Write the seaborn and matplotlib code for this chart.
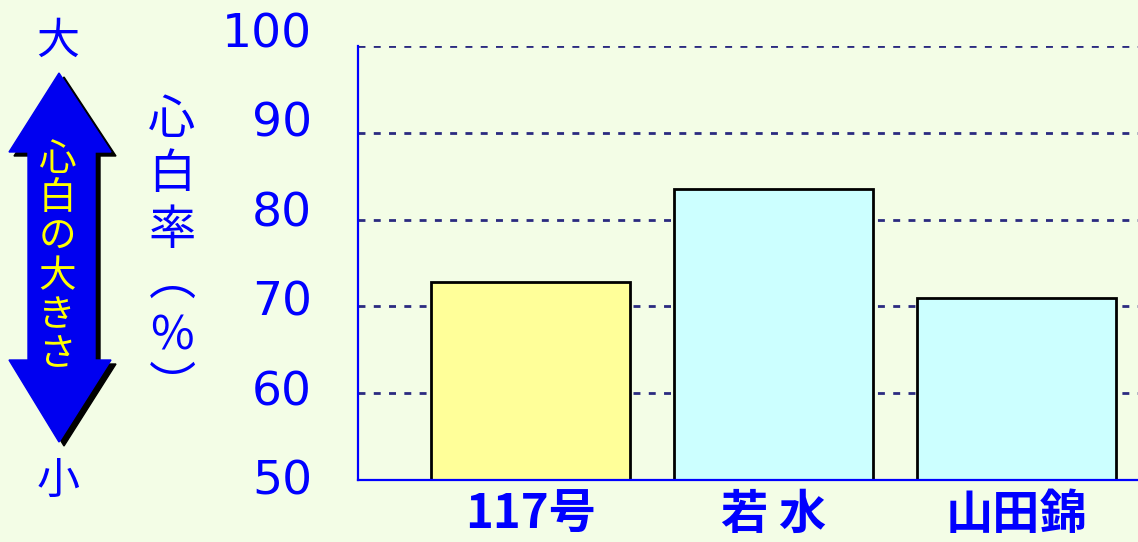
import matplotlib
matplotlib.use("Agg")
import matplotlib.pyplot as plt
import seaborn as sns
import pandas as pd
from matplotlib.patches import Polygon

# data
varieties = ["117号", "若 水", "山田錦"]
shinpaku = [72.8, 83.5, 71.0]
bar_colors = ["#FFFF99", "#CCFFFF", "#CCFFFF"]
yticks = [50, 60, 70, 80, 90, 100]

df = pd.DataFrame({"variety": varieties, "rate": shinpaku})

bg = "#F3FDE6"
blue = "#0000FF"

sns.set_theme(style="white")
plt.rcParams["font.family"] = ["Noto Sans CJK JP", "DejaVu Sans"]

fig = plt.figure(figsize=(11.38, 5.42), dpi=100, facecolor=bg)
ax = fig.add_axes([0.3146, 0.1144, 0.6854, 0.8007])
ax.set_facecolor(bg)

sns.barplot(data=df, x="variety", y="rate", hue="variety", palette=bar_colors,
            saturation=1, legend=False, width=0.82, edgecolor="black",
            linewidth=2, ax=ax)

ax.set_yticks(yticks)
ax.set_yticklabels([])
ax.set_ylim(50, 100)
ax.set_xlim(-0.71, 2.5)
ax.set_axisbelow(True)
ax.yaxis.grid(True, color="#2B2B80", linestyle=(0, (2.5, 3)), linewidth=2)
ax.xaxis.grid(False)

for s in ["top", "right"]:
    ax.spines[s].set_visible(False)
ax.spines["left"].set_color(blue)
ax.spines["bottom"].set_color(blue)
ax.spines["left"].set_linewidth(1.6)
ax.spines["bottom"].set_linewidth(1.6)

ax.tick_params(axis="y", length=0)
ax.tick_params(axis="x", length=0, pad=8, labelcolor=blue)
for lab in ax.get_xticklabels():
    lab.set_fontsize(34)
    lab.set_fontweight("bold")
ax.set_xlabel("")
ax.set_ylabel("")

# the original's number column is spaced a little wider than its gridlines
lab_ax = fig.add_axes([0.3146, 0.1144, 0.6854, 0.8487], frameon=False)
lab_ax.set_xticks([])
lab_ax.set_yticks(yticks)
lab_ax.set_yticklabels([str(t) for t in yticks], family="DejaVu Sans")
lab_ax.set_ylim(49.66, 101.12)
lab_ax.tick_params(axis="y", length=0, pad=33, labelsize=34, labelcolor=blue)
lab_ax.patch.set_visible(False)

# overlay in pixel coordinates for the side decorations
ov = fig.add_axes([0, 0, 1, 1], facecolor="none")
ov.set_xlim(0, 1138)
ov.set_ylim(542, 0)
ov.axis("off")

def arrow_pts(dx=0, dy=0):
    pts = [(59, 73), (111, 152), (95, 152), (95, 360), (111, 360),
           (59, 442), (9, 360), (28, 360), (28, 152), (9, 152)]
    return [(x + dx, y + dy) for x, y in pts]

ov.add_patch(Polygon(arrow_pts(5, 4), closed=True, color="black"))
ov.add_patch(Polygon(arrow_pts(), closed=True, color="#0000F0"))

ov.text(57, 257, "\n".join("心白の大きさ"), color="#FFFF00", fontsize=27,
        ha="center", va="center", linespacing=1.0)
ov.text(58, 42, "大", color=blue, fontsize=31, ha="center", va="center")
ov.text(58, 482, "小", color=blue, fontsize=31, ha="center", va="center")

# vertical axis title, one character per line
ylabel_chars = ["心", "白", "率", "︵", "%", "︶"]
ylabel_ys = [121, 175, 231, 282, 336, 388]
for ch, y in zip(ylabel_chars, ylabel_ys):
    ov.text(172, y, ch, color=blue, fontsize=34, ha="center", va="center")

fig.savefig("out.png", dpi=100, facecolor=bg)
